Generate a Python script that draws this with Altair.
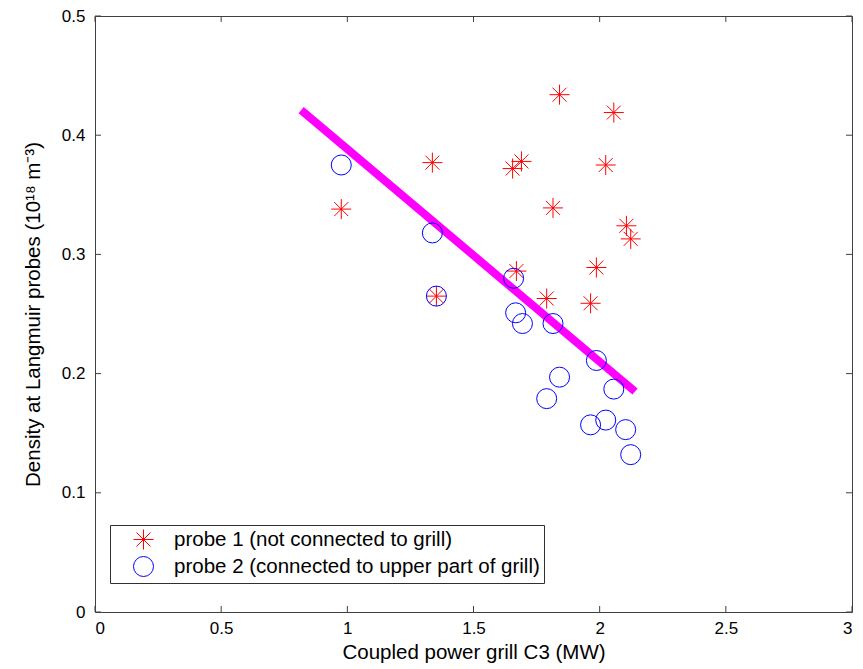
import altair as alt
import pandas as pd

# Probe 1 (not connected to grill)
p1_power = [0.976, 1.337, 1.353, 1.655, 1.670, 1.690, 1.790, 1.815, 1.841, 1.964, 1.987, 2.024, 2.056, 2.106, 2.123]
p1_density = [0.338, 0.377, 0.265, 0.372, 0.286, 0.378, 0.263, 0.339, 0.434, 0.259, 0.289, 0.375, 0.419, 0.324, 0.313]

# Probe 2 (connected to upper part of grill)
p2_power = [0.976, 1.337, 1.353, 1.659, 1.667, 1.694, 1.790, 1.815, 1.841, 1.964, 1.987, 2.024, 2.056, 2.103, 2.123]
p2_density = [0.375, 0.318, 0.265, 0.280, 0.251, 0.242, 0.179, 0.242, 0.197, 0.157, 0.211, 0.161, 0.187, 0.153, 0.132]

# Linear trend drawn across the probe 2 data
fit_power = [0.817, 2.140]
fit_density = [0.421, 0.185]

x_ticks = [0, 0.5, 1, 1.5, 2, 2.5, 3]
y_ticks = [0, 0.1, 0.2, 0.3, 0.4, 0.5]

label1 = "probe 1 (not connected to grill)"
label2 = "probe 2 (connected to upper part of grill)"

W, H = 757, 596
FONT = "Liberation Sans"
STAR = "M-1,0L1,0M0,-1L0,1M-0.7,-0.7L0.7,0.7M-0.7,0.7L0.7,-0.7"

points = pd.concat([
    pd.DataFrame({"power": p1_power, "density": p1_density, "probe": label1}),
    pd.DataFrame({"power": p2_power, "density": p2_density, "probe": label2}),
])
fit = pd.DataFrame({"power": fit_power, "density": fit_density})
xt = pd.DataFrame({"v": x_ticks})
yt = pd.DataFrame({"v": y_ticks})

xscale = alt.Scale(domain=[0, 3], nice=False, zero=False)
yscale = alt.Scale(domain=[0, 0.5], nice=False, zero=False)

x_enc = alt.X("power:Q", scale=xscale,
              axis=alt.Axis(title="Coupled power grill C3 (MW)", values=x_ticks,
                            format="~g", ticks=False, grid=False, domain=False,
                            labelPadding=8, titlePadding=6))
y_enc = alt.Y("density:Q", scale=yscale,
              axis=alt.Axis(title="Density at Langmuir probes (10¹⁸ m⁻³)", values=y_ticks,
                            format="~g", ticks=False, grid=False, domain=False,
                            labelPadding=10, titlePadding=18))

line = alt.Chart(fit).mark_line(color="#FF00FF", strokeWidth=8, strokeCap="butt").encode(
    x=x_enc, y=y_enc
)

pts = alt.Chart(points).mark_point(filled=False, size=400, strokeWidth=1, opacity=1).encode(
    x=alt.X("power:Q", scale=xscale),
    y=alt.Y("density:Q", scale=yscale),
    color=alt.Color("probe:N",
                    scale=alt.Scale(domain=[label1, label2], range=["#FF0000", "#0000FF"]),
                    legend=alt.Legend(title=None, orient="none", legendX=15, legendY=509)),
    shape=alt.Shape("probe:N",
                    scale=alt.Scale(domain=[label1, label2], range=[STAR, "circle"]),
                    legend=alt.Legend(title=None, orient="none", legendX=15, legendY=509)),
)

tick_len = 6
xb = alt.Chart(xt).mark_rule(color="#404040").encode(
    x=alt.X("v:Q", scale=xscale), y=alt.value(H), y2=alt.value(H - tick_len))
xtop = alt.Chart(xt).mark_rule(color="#404040").encode(
    x=alt.X("v:Q", scale=xscale), y=alt.value(0), y2=alt.value(tick_len))
yl = alt.Chart(yt).mark_rule(color="#404040").encode(
    y=alt.Y("v:Q", scale=yscale), x=alt.value(0), x2=alt.value(tick_len))
yr = alt.Chart(yt).mark_rule(color="#404040").encode(
    y=alt.Y("v:Q", scale=yscale), x=alt.value(W), x2=alt.value(W - tick_len))

chart = alt.layer(line, pts, xb, xtop, yl, yr).properties(
    width=W, height=H,
    autosize=alt.AutoSizeParams(type="none"),
    padding={"left": 95, "top": 16, "right": 11, "bottom": 57},
    background="white",
).configure_view(
    stroke="#404040", strokeWidth=1
).configure_axis(
    labelFont=FONT, titleFont=FONT, labelFontSize=17, titleFontSize=20.5,
    labelColor="black", titleColor="black", titleFontWeight="normal",
).configure_legend(
    labelFont=FONT, labelFontSize=20.5, labelColor="black", labelLimit=0,
    strokeColor="#303030", fillColor="white", padding=4,
    symbolOffset=19, labelOffset=20, rowPadding=2,
    symbolStrokeWidth=1, symbolSize=400,
)

chart.save("out.html", embed_options={"renderer": "svg", "actions": False})
